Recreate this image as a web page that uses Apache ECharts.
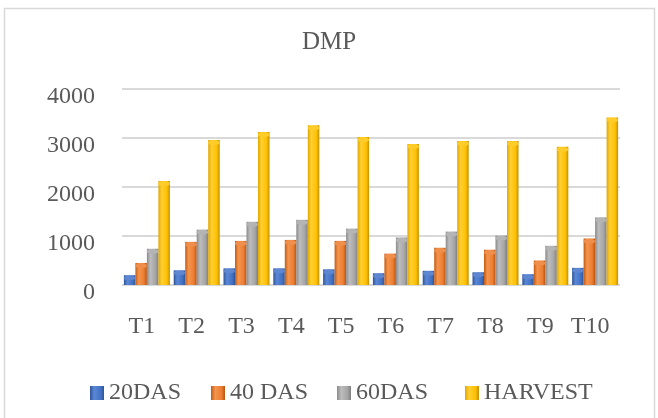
<!DOCTYPE html>
<html>
<head>
<meta charset="utf-8">
<script src="https://cdn.jsdelivr.net/npm/echarts@6/dist/echarts.min.js"></script>
<style>
  html, body { margin: 0; padding: 0; background: #fff; }
  #chart { width: 658px; height: 418px; }
</style>
</head>
<body>
<div id="chart"></div>
<script>
// data
var categories = ['T1', 'T2', 'T3', 'T4', 'T5', 'T6', 'T7', 'T8', 'T9', 'T10'];
var das20 = [200, 300, 340, 340, 320, 240, 290, 260, 220, 350];
var das40 = [450, 880, 900, 920, 900, 640, 760, 720, 500, 950];
var das60 = [740, 1130, 1290, 1330, 1150, 970, 1090, 1010, 800, 1380];
var harvest = [2120, 2960, 3120, 3260, 3020, 2880, 2940, 2940, 2820, 3420];
var yTicks = [0, 1000, 2000, 3000, 4000];

var font = '"Liberation Serif", "Times New Roman", serif';
var textColor = '#595959';

// cylinder look: dark edge, highlight, dark edge
function cyl(dark, base, light, edge) {
  return new echarts.graphic.LinearGradient(0, 0, 1, 0, [
    { offset: 0, color: dark },
    { offset: 0.3, color: light },
    { offset: 0.75, color: base },
    { offset: 1, color: edge }
  ]);
}

var colors = [
  cyl('#2f5597', '#4472c4', '#5a87d6', '#2f5597'),
  cyl('#c55a11', '#ed7d31', '#f4954f', '#b85410'),
  cyl('#8a8a8a', '#a5a5a5', '#bdbdbd', '#7f7f7f'),
  cyl('#e0a800', '#ffc000', '#ffcf33', '#bf9000')
];
var topColors = ['#5f86d0', '#f08f4c', '#b4b4b4', '#ffcc2a'];
var topEdges = ['#2f5597', '#b85410', '#7f7f7f', '#bf9000'];

function barSeries(name, data, i) {
  return {
    name: name,
    type: 'bar',
    barWidth: 11.5,
    barGap: '0%',
    data: data,
    itemStyle: { color: colors[i] }
  };
}

// elliptical cap on each bar
function capSeries(name, data, i) {
  return {
    name: name,
    type: 'pictorialBar',
    barWidth: 11.5,
    barGap: '0%',
    symbol: 'circle',
    symbolSize: [11.5, 5],
    symbolPosition: 'end',
    symbolOffset: [0, 0],
    z: 3,
    data: data,
    itemStyle: { color: topColors[i], borderColor: topEdges[i], borderWidth: 0.6 }
  };
}

function legendAt(name, left) {
  return {
    data: [name],
    left: left,
    top: 376,
    itemWidth: 14,
    itemHeight: 14,
    itemGap: 5,
    icon: 'rect',
    textStyle: { fontFamily: font, fontSize: 24, color: textColor, padding: [2, 0, 0, 0] }
  };
}

var chart = echarts.init(document.getElementById('chart'));
chart.setOption({
  animation: false,
  backgroundColor: '#fff',
  graphic: [{
    type: 'rect',
    shape: { x: 4.5, y: 8.5, width: 650, height: 420 },
    style: { fill: 'none', stroke: '#d9d9d9', lineWidth: 1.5 },
    silent: true
  }],
  title: {
    text: 'DMP',
    left: 'center',
    top: 25,
    textStyle: { fontFamily: font, fontSize: 25, fontWeight: 'normal', color: textColor }
  },
  legend: [
    legendAt('20DAS', 85),
    legendAt('40 DAS', 206),
    legendAt('60DAS', 332),
    legendAt('HARVEST', 460)
  ],
  grid: { left: 122, right: 38, top: 89, bottom: 133 },
  xAxis: {
    type: 'category',
    data: categories,
    axisLine: { show: false },
    axisTick: { show: false },
    axisLabel: {
      interval: 0,
      fontFamily: font, fontSize: 24, color: textColor,
      margin: 30, padding: [0, 10, 0, 0]
    }
  },
  yAxis: {
    type: 'value',
    min: yTicks[0],
    max: yTicks[yTicks.length - 1],
    interval: 1000,
    axisLine: { show: false },
    axisTick: { show: false },
    axisLabel: {
      formatter: function (v) { return String(v); },
      fontFamily: font, fontSize: 24, color: textColor,
      margin: 27, verticalAlign: 'top', lineHeight: 16
    },
    splitLine: { lineStyle: { color: '#d9d9d9', width: 2 } }
  },
  series: [
    barSeries('20DAS', das20, 0),
    barSeries('40 DAS', das40, 1),
    barSeries('60DAS', das60, 2),
    barSeries('HARVEST', harvest, 3),
    capSeries('20DAS', das20, 0),
    capSeries('40 DAS', das40, 1),
    capSeries('60DAS', das60, 2),
    capSeries('HARVEST', harvest, 3)
  ]
});
</script>
</body>
</html>
